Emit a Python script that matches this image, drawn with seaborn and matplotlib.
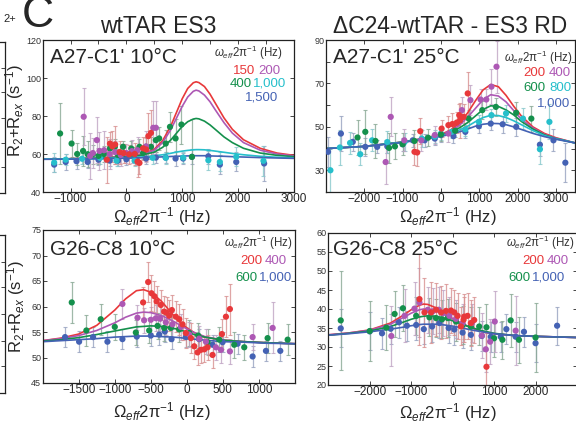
import matplotlib
matplotlib.use("Agg")
import matplotlib.pyplot as plt
import seaborn as sns

# ---- colours (one per spin-lock power) ----
RED, PURPLE, GREEN, CYAN, BLUE = "#e8383a", "#ad58b4", "#14904c", "#26bfcb", "#4462b4"
BAR = {RED: "#d89090", PURPLE: "#c0a4c4", GREEN: "#88a894", CYAN: "#88c8cc", BLUE: "#96a2c0"}

# ---- top left: A27-C1' 10C  (x = offset Hz, y = R2+Rex) ----
tl_fit_x = [-1500, -1000, -500, 0, 250, 500, 650, 800, 900, 1000, 1100, 1200, 1250, 1300,
            1400, 1500, 1600, 1750, 1900, 2100, 2400, 2700, 3000]
tl_fit_red = [57.3, 57.5, 57.9, 58.6, 59.5, 62.5, 67, 75, 82, 89, 94.5, 97.5, 98, 97.6,
              95.5, 91.5, 86.5, 79, 73, 67.5, 63, 60.5, 59.3]
tl_fit_purple = [57.3, 57.5, 57.9, 58.6, 59.4, 62, 66, 73, 79, 85, 90, 93, 93.6, 93.2,
                 91, 87.5, 83, 76.5, 71, 66, 62, 60, 59]
tl_fit_green = [57.3, 57.5, 57.8, 58.5, 59.2, 61, 63.5, 67.5, 71, 74.5, 77, 78.4, 78.7, 78.5,
                77.3, 75.3, 72.8, 69, 66, 63, 60.5, 59.3, 58.6]
tl_fit_cyan = [57.3, 57.4, 57.6, 58, 58.4, 59, 59.6, 60.4, 61, 61.5, 61.9, 62.2, 62.3, 62.3,
               62.2, 61.9, 61.5, 60.9, 60.3, 59.6, 58.8, 58.3, 58]
tl_fit_blue = [57.2, 57.3, 57.5, 57.8, 58, 58.3, 58.5, 58.7, 58.8, 58.9, 59, 59.1, 59.1, 59.1,
               59.1, 59, 58.9, 58.8, 58.6, 58.4, 58.1, 57.9, 57.7]
# points: (offset, value, error)
tl_red = [(-350, 57, 12), (-294, 65.5, 6), (-250, 64, 8), (-200, 65, 10), (-120, 61, 6),
          (-50, 60.5, 5), (50, 59.8, 5), (150, 60, 6), (200, 56, 8), (235, 55.3, 6),
          (300, 63, 6), (353, 62.4, 6), (394, 69.4, 12), (441, 71.1, 12)]
tl_purple = [(-765, 79.6, 15), (-650, 59, 12), (-600, 60.5, 8), (-529, 67.3, 12), (-482, 61.6, 10),
             (-400, 62, 10), (-300, 60, 8), (-200, 61, 6), (-100, 59.5, 6), (0, 60.5, 5),
             (100, 61.5, 6), (200, 62, 7), (353, 64, 8), (482, 73.8, 14), (529, 73.8, 14)]
tl_green = [(-1188, 70.8, 16), (-982, 65.5, 7), (-882, 60, 6), (-776, 61.6, 8), (-694, 59.9, 7),
            (-600, 59.9, 5), (-500, 59, 4), (-400, 60, 4), (-294, 62.9, 4), (-206, 63.8, 4),
            (-150, 59.5, 3), (-59, 63.8, 3), (88, 62.9, 4), (150, 60.5, 3), (235, 63.8, 4),
            (300, 60.5, 3), (353, 63.8, 5), (441, 63.8, 5), (529, 67.3, 6), (588, 68.2, 6),
            (706, 65.5, 7), (782, 74.3, 8), (882, 68.2, 10), (988, 75.5, 10), (1176, 58.5, 20)]
tl_cyan = [(-1294, 55.5, 5), (-1088, 57, 3), (-794, 57.5, 3), (-471, 58, 3), (-176, 56.5, 3),
           (147, 56.5, 3), (471, 58, 3), (706, 58, 3), (1018, 58.1, 3), (1470, 56.7, 5),
           (1676, 55.8, 5), (1970, 58.5, 5), (2458, 56.4, 8)]
tl_blue = [(-1294, 54.4, 4), (-1088, 55.8, 4), (-894, 56.2, 4), (-694, 55.8, 3), (-500, 57, 3),
           (-300, 56.5, 3), (-150, 56.5, 3), (0, 57.2, 3), (176, 57, 3), (353, 57.6, 3),
           (529, 58.1, 3), (706, 58.1, 3), (882, 57.6, 4), (1018, 57.6, 3), (1176, 58.5, 4),
           (1470, 58.8, 4), (1676, 54.4, 5), (1970, 55.8, 5), (2470, 55, 9)]

# ---- top right: A27-C1' 25C ----
tr_fit_x = [-3000, -2000, -1000, -500, 0, 250, 500, 700, 900, 1100, 1300, 1500, 1700, 1900,
            2100, 2400, 2700, 3000, 3500]
tr_fit_red = [40, 41, 43, 44.5, 46.5, 48.5, 52, 56.5, 62, 67, 69.5, 68.5, 64.5, 59.5,
              55, 50, 47, 45, 42.6]
tr_fit_purple = [40, 41, 43, 44.5, 46.3, 48, 51, 54.5, 58.5, 62.5, 64.8, 64.2, 61.5, 57.5,
                 53.5, 49.5, 46.5, 44.8, 42.6]
tr_fit_green = [40, 41, 43, 44.4, 46, 47.5, 49.7, 52, 55, 58, 59.7, 59.4, 57.8, 55.5,
                52.5, 49, 46.3, 44.6, 42.6]
tr_fit_cyan = [40, 41, 42.9, 44.3, 45.8, 47, 48.7, 50.3, 52.4, 54.3, 55.3, 55.2, 54.3, 52.8,
               51, 48.3, 46, 44.5, 42.6]
tr_fit_blue = [40, 41, 42.8, 44.2, 45.6, 46.6, 47.8, 49, 50.3, 51.2, 51.6, 51.5, 51, 50,
               48.8, 47, 45.5, 44.3, 42.6]
tr_red = [(-690, 38.5, 6), (-620, 38.2, 6), (-540, 48, 6), (18, 49.2, 4), (195, 50.8, 4),
          (300, 51.3, 5), (415, 52, 5), (478, 55.4, 5), (500, 53, 8), (593, 54.6, 6),
          (699, 65.4, 10)]
tr_purple = [(-1443, 33.8, 10), (-1310, 54.6, 9), (-956, 43.8, 5), (-513, 43.8, 5),
             (-160, 46.2, 4), (195, 46.9, 4), (549, 57.7, 6), (770, 62.3, 7), (1035, 62.6, 5),
             (1185, 62.6, 5), (1319, 68.5, 8), (1451, 77.7, 12)]
tr_green = [(-2177, 45.1, 8), (-1974, 47.7, 10), (-1708, 43.5, 8), (-1354, 40.3, 7),
            (-1200, 41, 6), (-1000, 42, 5), (-690, 43.5, 5), (-336, 45, 4), (0, 46.5, 3),
            (372, 48.2, 3), (726, 53.8, 4), (1080, 57.7, 4), (1434, 59.2, 4), (1965, 56.5, 5),
            (2360, 53.8, 6)]
tr_cyan = [(-2885, 30, 10), (-2637, 40.5, 8), (-2372, 42.6, 5), (-2106, 37.4, 5),
           (-1797, 43.8, 5), (-1400, 43, 5), (-950, 43, 4), (-500, 44.6, 4), (-160, 45.5, 3),
           (0, 46.9, 3), (283, 47.7, 3), (637, 48.8, 3), (991, 52.3, 3), (1319, 55.4, 3),
           (1700, 56.2, 4), (2142, 53.8, 5), (2584, 39.7, 7), (2832, 52.3, 8)]
tr_blue = [(-2947, 38.5, 7), (-2611, 46.9, 8), (-2301, 43.1, 4), (-1974, 40.8, 4),
           (-1664, 40.8, 3), (-1400, 41, 3), (-1000, 42, 3), (-735, 43.8, 3), (-425, 43.8, 3),
           (-160, 44.6, 3), (0, 46.2, 3), (327, 45.7, 3), (637, 47.7, 3), (991, 50.3, 3),
           (1300, 51.5, 3), (1611, 51.2, 4), (1965, 50, 4), (2584, 41.8, 5), (2938, 43.8, 5),
           (3248, 33.5, 9)]

# ---- bottom left: G26-C8 10C ----
bl_fit_x = [-2000, -1750, -1500, -1250, -1000, -850, -700, -600, -500, -350, -200, -100,
            0, 100, 250, 500, 800, 1100, 1500]
bl_fit_red = [53.3, 53.8, 54.6, 56.3, 59.3, 61.5, 63.1, 63.3, 62.8, 61, 58.5, 57,
              55.8, 54.9, 54, 53.4, 53.1, 52.9, 52.7]
bl_fit_purple = [53.3, 53.7, 54.3, 55.3, 56.8, 57.9, 58.7, 58.9, 58.8, 58.2, 57.2, 56.4,
                 55.6, 54.9, 54.1, 53.4, 53.1, 52.9, 52.7]
bl_fit_green = [53.2, 53.5, 53.9, 54.5, 55.2, 55.6, 56, 56.1, 56.2, 56.1, 55.8, 55.4,
                55, 54.5, 54, 53.4, 53.1, 52.9, 52.7]
bl_fit_blue = [53.1, 53.3, 53.5, 53.7, 54, 54.1, 54.2, 54.2, 54.2, 54.1, 54, 53.9,
               53.7, 53.6, 53.4, 53.1, 53, 52.8, 52.7]
bl_red = [(-607, 60.8, 3), (-537, 64.8, 4), (-491, 62.6, 3.5), (-450, 62, 3), (-420, 61, 3),
          (-361, 60.3, 3), (-315, 59, 3), (-282, 58.8, 3), (-245, 58.2, 3), (-208, 59.3, 3),
          (-153, 58, 3), (-106, 57.5, 3), (-60, 56.5, 3), (-14, 54.8, 3), (56, 53.8, 3),
          (102, 52.2, 2.5), (148, 51, 2.5), (194, 51.5, 2.5), (241, 51.6, 2.5), (287, 52, 2.5),
          (356, 50.5, 2.5), (486, 54.6, 3), (542, 58, 4), (597, 59.5, 5)]
bl_purple = [(-894, 60.5, 3), (-685, 57.8, 2.5), (-593, 57.3, 2.5), (-500, 57.4, 2.5),
             (-430, 57.7, 2.5), (-370, 57.6, 2.5), (-292, 56.9, 2.5), (-200, 56.5, 2.5),
             (-83, 56, 2.5), (32, 54.5, 2.5), (171, 53.7, 2.5), (264, 53.1, 2.5),
             (403, 52, 2.5), (472, 51.5, 2.5), (597, 51.2, 2.5), (912, 54, 2.5), (1190, 55.8, 5)]
bl_green = [(-1597, 60.8, 4), (-1394, 55.3, 3), (-1195, 57.5, 3), (-1000, 56, 2.5),
            (-708, 54.9, 2.5), (-523, 55.3, 2.5), (-407, 56.2, 2.5), (-315, 55.8, 2.5),
            (-222, 55.8, 2.5), (-106, 55.5, 2.5), (32, 54.8, 2.5), (157, 54.3, 2.5),
            (287, 53, 2.5), (449, 53.5, 2.5), (657, 52.5, 2.5), (796, 52, 2.5),
            (1120, 53.8, 3), (1398, 53.5, 3)]
bl_blue = [(-1690, 54, 2), (-1495, 53.1, 2), (-1301, 54, 2), (-1102, 53.1, 2), (-894, 53.6, 2),
           (-695, 54.1, 2), (-500, 54.3, 2), (-384, 54.5, 2), (-306, 55.1, 2), (-213, 53.6, 2),
           (-14, 54, 2), (171, 53.6, 2), (356, 52.5, 2), (495, 53, 2), (704, 52.7, 2),
           (912, 50.2, 2), (1097, 51.3, 2), (1296, 51.3, 2)]

# ---- bottom right: G26-C8 25C ----
br_fit_x = [-3000, -2500, -2000, -1500, -1200, -1000, -800, -700, -600, -400, -200, 0,
            200, 400, 700, 1000, 1500, 2000, 3000]
br_fit_red = [33.2, 33.7, 34.5, 36.3, 38.3, 39.8, 41, 41.3, 41.2, 40.3, 38.8, 37.5,
              36.3, 35.3, 34.1, 33.5, 33, 32.8, 32.5]
br_fit_purple = [33.2, 33.7, 34.4, 36, 37.7, 38.9, 39.8, 40, 40, 39.5, 38.5, 37.4,
                 36.3, 35.3, 34.2, 33.5, 33, 32.8, 32.5]
br_fit_green = [33.1, 33.6, 34.2, 35.4, 36.5, 37.3, 37.9, 38.1, 38.2, 38.1, 37.6, 36.9,
                36.1, 35.3, 34.3, 33.6, 33, 32.8, 32.5]
br_fit_blue = [33.1, 33.5, 34, 34.7, 35.2, 35.6, 35.9, 36, 36, 36, 35.8, 35.5,
               35.1, 34.6, 34, 33.5, 33, 32.8, 32.5]
br_red = [(-800, 42.6, 12), (-680, 39.1, 9), (-520, 39.1, 8), (-400, 39.8, 7), (-280, 39.1, 7),
          (-160, 39.5, 7), (-40, 39.6, 6), (40, 39.1, 6), (120, 38.2, 6), (200, 35.4, 5),
          (264, 37.2, 6), (280, 38, 6), (360, 38.2, 6), (440, 36.3, 6), (520, 37.1, 6),
          (816, 24.8, 9)]
br_purple = [(-1480, 32.9, 8), (-1160, 38.2, 7), (-920, 40.1, 7), (-800, 41.7, 9),
             (-600, 39.8, 6), (-480, 39.4, 6), (-336, 39.8, 6), (-240, 38.9, 6), (-80, 38.2, 5),
             (80, 37.4, 5), (240, 36.3, 5), (464, 36.3, 5), (704, 33, 6), (800, 29.4, 6),
             (904, 31.4, 6), (1016, 36.7, 8), (1520, 34.3, 9)]
br_green = [(-2700, 37, 13), (-2000, 34.2, 8), (-1600, 35.1, 6), (-1400, 38.7, 6),
            (-1200, 40.2, 6), (-880, 38.2, 5), (-560, 37.8, 5), (-400, 37.6, 5), (-256, 37.3, 5),
            (-120, 37.6, 5), (80, 36.7, 5), (240, 35.8, 5), (440, 35.4, 5), (640, 35.4, 5),
            (816, 35.2, 6), (1000, 32.3, 5), (1200, 31.9, 5), (1400, 37, 7), (1600, 31.9, 6),
            (2000, 32.5, 9)]
br_blue = [(-2700, 34.9, 5), (-2000, 34.1, 5), (-1704, 33.6, 4), (-1496, 34.8, 4),
           (-1296, 36.5, 4), (-1104, 35.6, 4), (-880, 35.8, 4), (-696, 34.7, 4), (-496, 35.4, 4),
           (-320, 36.3, 4), (-96, 35, 4), (40, 34.6, 4), (240, 33.8, 4), (440, 33.2, 4),
           (704, 32.9, 4), (920, 32.7, 4), (1160, 32.7, 4), (1296, 34.7, 4), (1520, 32.7, 4),
           (1720, 34, 4), (2000, 31, 5), (2520, 35.6, 5)]

sns.set_style("ticks")
plt.rcParams["font.family"] = ["Liberation Sans", "DejaVu Sans"]
plt.rcParams["mathtext.fontset"] = "custom"
plt.rcParams["mathtext.rm"] = "Liberation Sans"
plt.rcParams["mathtext.it"] = "Liberation Sans:italic"
plt.rcParams["mathtext.bf"] = "Liberation Sans:bold"

W, H = 576, 425
fig = plt.figure(figsize=(W / 100, H / 100), dpi=100)


def box(l, t, r, b):
    # pixel box -> figure fraction rect
    return [l / W, 1 - b / H, (r - l) / W, (b - t) / H]


def ftext(x, y, s, **kw):
    fig.text(x / W, 1 - y / H, s, **kw)


def panel(rect, fit_x, fits, series, xlim, ylim, xticks, xlabels, yticks, ylabels, xminor=None, yminor=None):
    ax = fig.add_axes(rect)
    for color, pts in series:
        xs, ys, es = zip(*pts)
        ax.errorbar(xs, ys, yerr=es, fmt="none", ecolor=BAR[color], elinewidth=0.9,
                    capsize=1.6, capthick=0.8, alpha=0.8, zorder=1)
    for color, fy in fits:
        sns.lineplot(x=fit_x, y=fy, color=color, lw=1.2, ax=ax, zorder=2)
    for color, pts in series:
        xs, ys, es = zip(*pts)
        sns.scatterplot(x=list(xs), y=list(ys), color=color, s=20, edgecolor="none",
                        ax=ax, zorder=3, legend=False)
    ax.set_xlim(*xlim)
    ax.set_ylim(*ylim)
    ax.set_xticks(xticks)
    ax.set_xticklabels(xlabels, fontsize=8.5)
    ax.set_yticks(yticks)
    ax.set_yticklabels(ylabels, fontsize=6.5, color="#333333")
    if xminor:
        ax.set_xticks(xminor, minor=True)
    if yminor:
        ax.set_yticks(yminor, minor=True)
    ax.tick_params(which="both", direction="in", top=True, right=True, length=3,
                   width=0.6, pad=1.0)
    ax.set_xlabel("")
    ax.set_ylabel("")
    for sp in ax.spines.values():
        sp.set_linewidth(0.9)
        sp.set_color("#222222")
    return ax


panel(box(42.7, 40, 293.7, 192), tl_fit_x,
      [(RED, tl_fit_red), (PURPLE, tl_fit_purple), (GREEN, tl_fit_green),
       (CYAN, tl_fit_cyan), (BLUE, tl_fit_blue)],
      [(BLUE, tl_blue), (CYAN, tl_cyan), (GREEN, tl_green), (PURPLE, tl_purple), (RED, tl_red)],
      (-1500, 3000), (40, 120),
      [-1000, 0, 1000, 2000, 3000], ["\u22121000", "0", "1000", "2000", "3000"],
      [40, 60, 80, 100, 120], ["40", "60", "80", "100", "120"],
      xminor=[-1500, -500, 500, 1500, 2500])

panel(box(326, 40, 575, 192), tr_fit_x,
      [(RED, tr_fit_red), (PURPLE, tr_fit_purple), (GREEN, tr_fit_green),
       (CYAN, tr_fit_cyan), (BLUE, tr_fit_blue)],
      [(BLUE, tr_blue), (CYAN, tr_cyan), (GREEN, tr_green), (PURPLE, tr_purple), (RED, tr_red)],
      (-3000, 3500), (20, 90),
      [-2000, -1000, 0, 1000, 2000, 3000],
      ["\u22122000", "\u22121000", "0", "1000", "2000", "3000"],
      [30, 50, 70, 90], ["30", "50", "70", "90"],
      yminor=[20, 40, 60, 80])

panel(box(42.7, 230, 295, 383), bl_fit_x,
      [(RED, bl_fit_red), (PURPLE, bl_fit_purple), (GREEN, bl_fit_green), (BLUE, bl_fit_blue)],
      [(BLUE, bl_blue), (GREEN, bl_green), (PURPLE, bl_purple), (RED, bl_red)],
      (-2000, 1500), (45, 75),
      [-1500, -1000, -500, 0, 500, 1000],
      ["\u22121500", "\u22121000", "\u2212500", "0", "500", "1000"],
      [45, 50, 55, 60, 65, 70, 75], ["45", "50", "55", "60", "65", "70", "75"])

panel(box(328.3, 233, 577, 385), br_fit_x,
      [(RED, br_fit_red), (PURPLE, br_fit_purple), (GREEN, br_fit_green), (BLUE, br_fit_blue)],
      [(BLUE, br_blue), (GREEN, br_green), (PURPLE, br_purple), (RED, br_red)],
      (-3000, 3000), (20, 60),
      [-2000, -1000, 0, 1000, 2000], ["\u22122000", "\u22121000", "0", "1000", "2000"],
      [20, 25, 30, 35, 40, 45, 50, 55, 60],
      ["20", "25", "30", "35", "40", "45", "50", "55", "60"])

# partial neighbouring panels cut off at the left edge
for rect in (box(-120, 42, 5, 193), box(-120, 235, 5, 393)):
    axp = fig.add_axes(rect)
    axp.set_xticks([])
    axp.set_yticks([0.17, 0.33, 0.5, 0.67, 0.83])
    axp.set_yticklabels([])
    axp.tick_params(direction="in", right=True, left=False, length=3, width=0.6)
    for sp in axp.spines.values():
        sp.set_linewidth(0.9)
        sp.set_color("#222222")

# ---- texts ----
ftext(158, 33, "wtTAR ES3", fontsize=16.5, ha="center", va="baseline")
ftext(450, 33, "\u0394C24-wtTAR - ES3 RD", fontsize=16.5, ha="center", va="baseline")
ftext(22, 27, "C", fontsize=32, ha="left", va="baseline")
ftext(3, 22, "2+", fontsize=8, ha="left", va="baseline")

ftext(50, 63, "A27-C1' 10\u00b0C", fontsize=15, va="baseline")
ftext(333, 63, "A27-C1' 25\u00b0C", fontsize=15, va="baseline")
ftext(50, 255, "G26-C8 10\u00b0C", fontsize=15, va="baseline")
ftext(333, 255, "G26-C8 25\u00b0C", fontsize=15, va="baseline")

leg_title = r"$\mathit{\omega_{eff}}$2π$^{-1}$ (Hz)"
for x, y in ((283, 57), (573, 62), (293, 247), (575, 247)):
    ftext(x, y, leg_title, fontsize=8.3, color="#333333", ha="right", va="baseline")

legend_rows = [
    (233, 74, "150", RED), (258, 74, "200", PURPLE),
    (230, 87, "400", GREEN), (253, 87, "1,000", CYAN), (245, 101, "1,500", BLUE),
    (523, 76, "200", RED), (549, 76, "400", PURPLE),
    (523, 91, "600", GREEN), (549, 91, "800", CYAN), (537, 106, "1,000", BLUE),
    (240, 264, "200", RED), (265, 264, "400", PURPLE),
    (235, 281, "600", GREEN), (259, 281, "1,000", BLUE),
    (522, 264, "200", RED), (547, 264, "400", PURPLE),
    (508, 281, "600", GREEN), (532, 281, "1,000", BLUE),
]
for x, y, s, c in legend_rows:
    ftext(x, y, s, fontsize=9.5, color=c, va="baseline")

ylab = r"R$_2$+R$_{ex}$ (s$^{-1}$)"
ftext(15, 111, ylab, fontsize=12, rotation=90, ha="center", va="center")
ftext(16, 307, ylab, fontsize=12, rotation=90, ha="center", va="center")

xlab = r"$\mathit{\Omega_{eff}}$2π$^{-1}$ (Hz)"
for x, y in ((162, 217), (448, 217), (162, 412), (448, 413)):
    ftext(x, y, xlab, fontsize=12, ha="center", va="center")

fig.savefig("out.png", dpi=100)
